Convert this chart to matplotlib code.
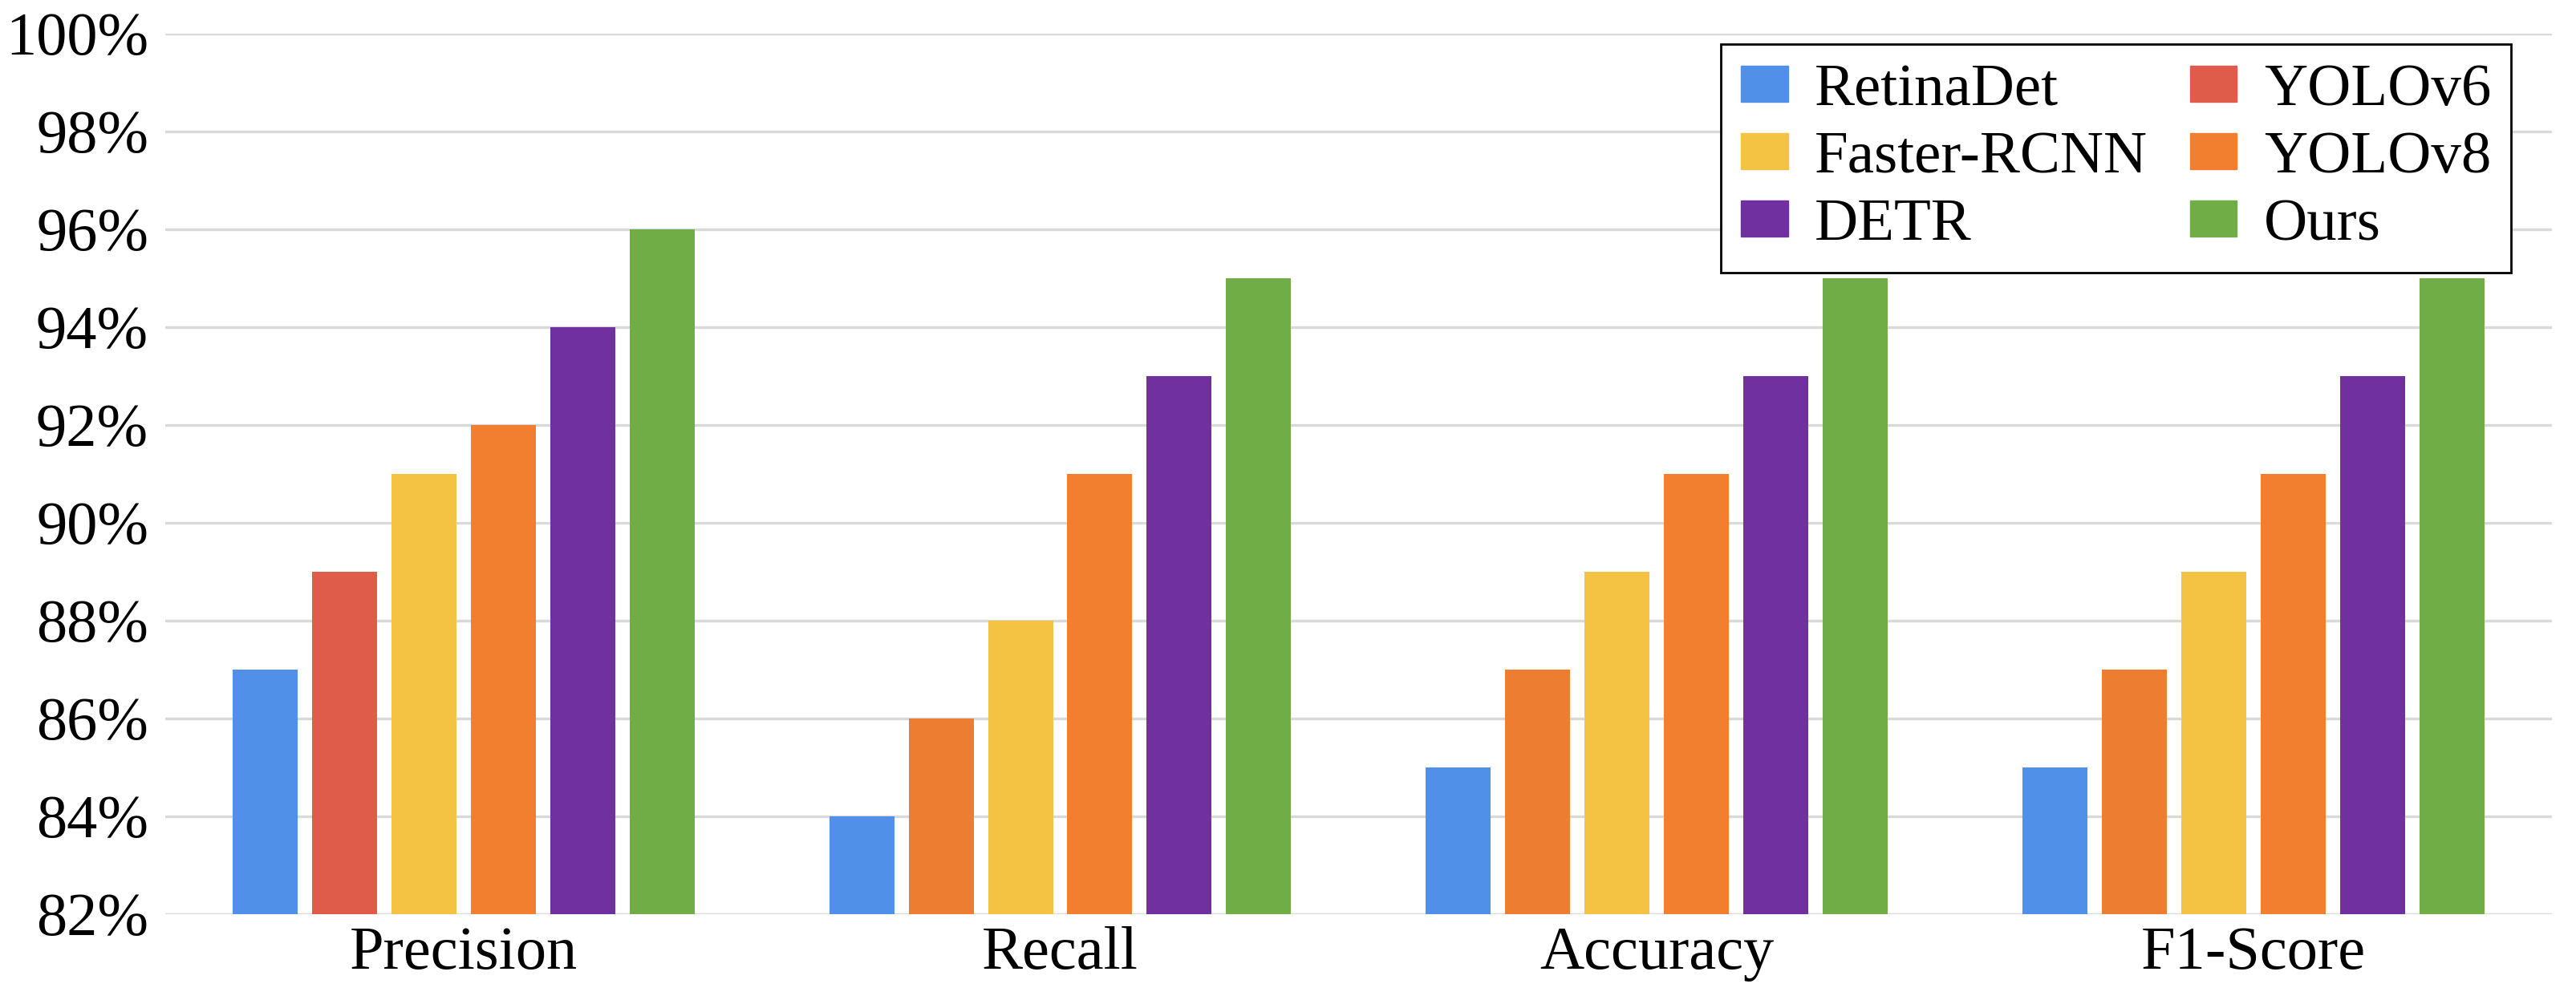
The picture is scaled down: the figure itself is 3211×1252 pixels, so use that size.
import numpy as np
import matplotlib.pyplot as plt
from matplotlib.patches import Patch

# Datos
categories = ['Precision', 'Recall', 'Accuracy', 'F1-Score']
models = ['RetinaDet', 'YOLOv6', 'Faster-RCNN', 'YOLOv8', 'DETR', 'Ours']
retinadet = [87, 84, 85, 85]
yolov6 = [89, 86, 87, 87]
faster_rcnn = [91, 88, 89, 89]
yolov8 = [92, 91, 91, 91]
detr = [94, 93, 93, 93]
ours = [96, 95, 95, 95]
series = [retinadet, yolov6, faster_rcnn, yolov8, detr, ours]

colors = ['#5190E9', '#DF5B4A', '#F4C343', '#F27F30', '#7030A0', '#70AD47']
# the YOLOv6 bars after Precision use a slightly different orange
yolov6_colors = ['#DF5B4A', '#ED7D31', '#ED7D31', '#ED7D31']

plt.rcParams['font.family'] = ['Liberation Serif', 'DejaVu Serif']

fig = plt.figure(figsize=(32.12, 12.52), dpi=100)
ax = fig.add_axes([0.0641, 0.0895, 0.9262, 0.877])

x = np.arange(len(categories))
step = 0.133
width = 0.109
for j, vals in enumerate(series):
    c = yolov6_colors if j == 1 else colors[j]
    ax.bar(x + (j - 2.5) * step, vals, width, color=c, zorder=3)

ax.set_xlim(-0.5, len(categories) - 0.5)
ax.set_ylim(82, 100)
ax.set_yticks(np.arange(82, 101, 2))
ax.set_yticklabels([f'{v}%' for v in range(82, 101, 2)], fontsize=55)
ax.set_xticks(x)
ax.set_xticklabels(categories, fontsize=55)
ax.tick_params(axis='both', length=0)
ax.tick_params(axis='y', pad=15)
ax.tick_params(axis='x', pad=11)
ax.grid(axis='y', color='#D9D9D9', linewidth=2.4, zorder=0)
for s in ax.spines.values():
    s.set_visible(False)

# Leyenda (dos columnas, orden por filas)
order = [0, 2, 4, 1, 3, 5]
handles = [Patch(color=colors[k], label=models[k]) for k in order]
leg = ax.legend(handles=handles, ncol=2, loc='upper right',
                bbox_to_anchor=(0.983, 0.988), fontsize=54, frameon=True,
                fancybox=False, edgecolor='black', handlelength=0.78,
                handleheight=0.55, handletextpad=0.45, columnspacing=0.7,
                labelspacing=0.22, borderpad=0.33, borderaxespad=0,
                framealpha=1)
leg.get_frame().set_linewidth(2.0)

fig.savefig('out.png', dpi=100, facecolor='white')
